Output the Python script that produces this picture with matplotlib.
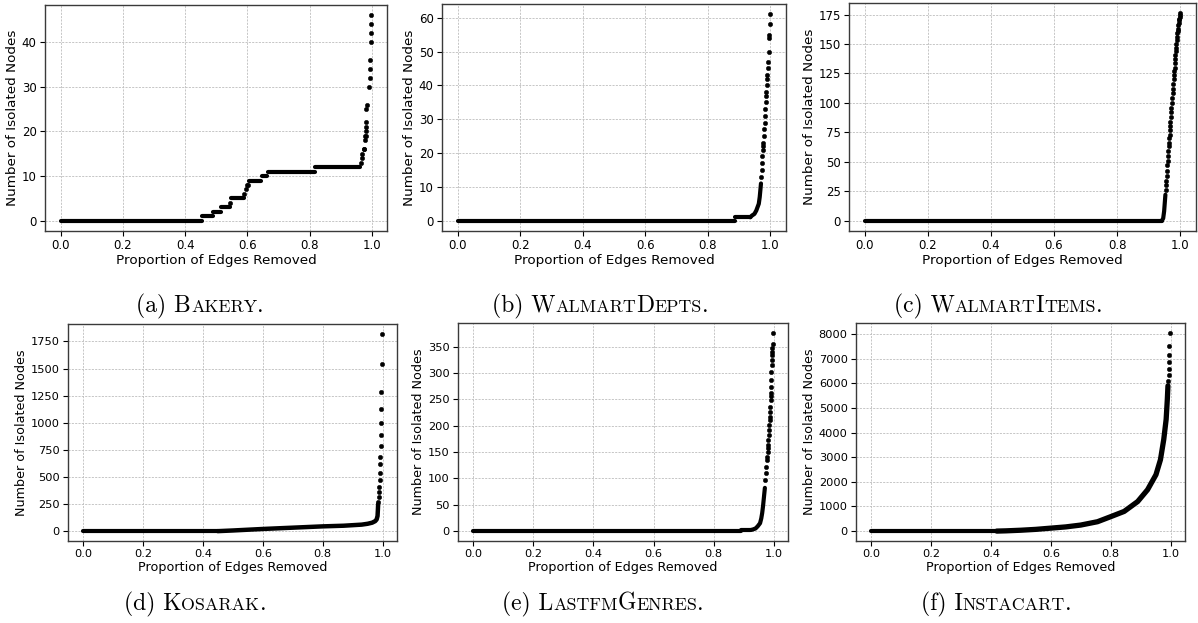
import numpy as np
import matplotlib
matplotlib.use("Agg")
import matplotlib.pyplot as plt

W, H = 1198, 623

# ---------------- data ----------------
# (a) Bakery
bak_run_x0 = [0.0, 0.455, 0.490, 0.515, 0.546, 0.604, 0.646, 0.665, 0.818]
bak_run_x1 = [0.455, 0.490, 0.515, 0.543, 0.589, 0.644, 0.662, 0.818, 0.962]
bak_run_y = [0, 1, 2, 3, 5, 9, 10, 11, 12]
bak_cx = []
bak_cy = []
bak_dx = [0.544, 0.589, 0.594, 0.598, 0.601, 0.965, 0.968, 0.969, 0.973, 0.974, 0.976,
          0.977, 0.979, 0.979, 0.980, 0.981, 0.982, 0.983, 0.991, 0.992, 0.993, 0.994,
          0.995, 0.996, 0.997, 0.998]
bak_dy = [4, 6, 7, 8, 8, 13, 14, 15, 16, 16, 18, 19, 19, 20, 21, 22, 25, 26, 30, 32, 34, 36,
          40, 42, 44, 46]

# (b) WalmartDepts
wd_run_x0 = [0.0, 0.888]
wd_run_x1 = [0.888, 0.936]
wd_run_y = [0, 1]
wd_cx = [0.936, 0.941, 0.949, 0.955, 0.959, 0.963, 0.966, 0.968, 0.970]
wd_cy = [1, 1.5, 2, 3, 4, 5, 7, 9, 11]
wd_dx = [0.971, 0.972, 0.973, 0.974, 0.975, 0.976, 0.978, 0.979, 0.980, 0.982, 0.983, 0.984,
         0.985, 0.986, 0.987, 0.988, 0.989, 0.990, 0.991, 0.993, 0.995, 0.996, 0.997, 0.998, 1.0]
wd_dy = [13, 15, 17, 19, 21, 22, 23, 25, 27, 29, 31, 33, 35, 37, 38, 40, 42, 43, 45, 47, 50,
         54, 55, 58, 61]

# (c) WalmartItems
wi_run_x0 = [0.0]
wi_run_x1 = [0.942]
wi_run_y = [0]
wi_cx = [0.942, 0.946, 0.949, 0.951, 0.953]
wi_cy = [0, 2, 8, 15, 22]
wi_dx = [0.954, 0.955, 0.956, 0.957, 0.958, 0.959, 0.960, 0.961, 0.962, 0.963, 0.964, 0.965,
         0.966, 0.967, 0.968, 0.969, 0.970, 0.971, 0.972, 0.973, 0.975, 0.976, 0.977, 0.978,
         0.979, 0.980, 0.981, 0.982, 0.983, 0.984, 0.985, 0.986, 0.987, 0.988, 0.989, 0.990,
         0.991, 0.992, 0.993, 0.994, 0.995, 0.996, 0.997, 0.998, 0.999, 1.0]
wi_dy = [26, 30, 34, 38, 42, 47, 51, 55, 59, 63, 66, 70, 73, 77, 80, 84, 88, 92, 96, 100,
         104, 108, 112, 116, 120, 124, 127, 130, 134, 137, 141, 144, 147, 150, 153, 156,
         159, 161, 163, 166, 168, 170, 171, 173, 175, 176]

# (d) Kosarak
ko_run_x0 = [0.0]
ko_run_x1 = [0.45]
ko_run_y = [0]
ko_cx = [0.45, 0.5, 0.55, 0.6, 0.65, 0.7, 0.75, 0.8, 0.87, 0.9, 0.93, 0.95, 0.965, 0.975,
         0.98, 0.983, 0.984, 0.985]
ko_cy = [0, 6, 13, 20, 26, 32, 38, 44, 50, 55, 60, 68, 78, 92, 108, 140, 190, 250]
ko_dx = [0.986, 0.987, 0.988, 0.989, 0.990, 0.991, 0.992, 0.992, 0.993, 0.994, 0.994, 0.995,
         0.996, 0.997, 0.998]
ko_dy = [270, 317, 363, 409, 471, 532, 618, 686, 785, 883, 1000, 1127, 1280, 1540, 1820]

# (e) LastfmGenres
lf_run_x0 = [0.0, 0.889]
lf_run_x1 = [0.889, 0.922]
lf_run_y = [0, 2]
lf_cx = [0.922, 0.930, 0.939, 0.946, 0.954, 0.958, 0.961, 0.964, 0.967, 0.970]
lf_cy = [2, 3, 5, 9, 15, 24, 34, 48, 65, 82]
lf_dx = [0.972, 0.973, 0.975, 0.976, 0.978, 0.979, 0.980, 0.981, 0.982, 0.983, 0.984, 0.985,
         0.986, 0.987, 0.988, 0.988, 0.989, 0.990, 0.990, 0.991, 0.992, 0.992, 0.993, 0.994,
         0.994, 0.995, 0.995, 0.996, 0.997]
lf_dy = [97, 110, 122, 135, 141, 150, 157, 163, 172, 182, 192, 202, 211, 217, 226, 236, 249,
         257, 262, 274, 287, 302, 315, 325, 334, 340, 348, 355, 376]

# (f) Instacart
ic_run_x0 = [0.0]
ic_run_x1 = [0.42]
ic_run_y = [0]
ic_cx = [0.42, 0.45, 0.5, 0.55, 0.6, 0.65, 0.7, 0.756, 0.8, 0.845, 0.89, 0.923, 0.951, 0.966,
         0.977, 0.985, 0.989, 0.991]
ic_cy = [0, 10, 35, 70, 120, 170, 245, 381, 586, 800, 1200, 1680, 2290, 2900, 3720, 4540,
         5370, 5900]
ic_dx = [0.992, 0.993, 0.994, 0.994, 0.995, 0.996, 0.998]
ic_dy = [6110, 6340, 6580, 6850, 7170, 7530, 8050]

# captions: (text, small-caps flag)
cap_a = [("(a) B", False), ("AKERY", True), (".", False)]
cap_b = [("(b) W", False), ("ALMART", True), ("D", False), ("EPTS", True), (".", False)]
cap_c = [("(c) W", False), ("ALMART", True), ("I", False), ("TEMS", True), (".", False)]
cap_d = [("(d) K", False), ("OSARAK", True), (".", False)]
cap_e = [("(e) L", False), ("ASTFM", True), ("G", False), ("ENRES", True), (".", False)]
cap_f = [("(f) I", False), ("NSTACART", True), (".", False)]

xlabel = "Proportion of Edges Removed"
ylabel = "Number of Isolated Nodes"

panels = [
    dict(runs=(bak_run_x0, bak_run_x1, bak_run_y), curve=(bak_cx, bak_cy), dots=(bak_dx, bak_dy),
         box=(45, 5, 387, 231), yticks=[0, 10, 20, 30, 40], cap=cap_a, capx=200, capy=312, row=0, lw=3.0),
    dict(runs=(wd_run_x0, wd_run_x1, wd_run_y), curve=(wd_cx, wd_cy), dots=(wd_dx, wd_dy),
         box=(442, 4, 786, 231), yticks=[0, 10, 20, 30, 40, 50, 60], cap=cap_b, capx=600, capy=312, row=0, lw=3.0),
    dict(runs=(wi_run_x0, wi_run_x1, wi_run_y), curve=(wi_cx, wi_cy), dots=(wi_dx, wi_dy),
         box=(849, 3, 1196, 231), yticks=[0, 25, 50, 75, 100, 125, 150, 175], cap=cap_c, capx=998, capy=312, row=0, lw=3.0),
    dict(runs=(ko_run_x0, ko_run_x1, ko_run_y), curve=(ko_cx, ko_cy), dots=(ko_dx, ko_dy),
         box=(68, 324, 397, 541), yticks=[0, 250, 500, 750, 1000, 1250, 1500, 1750], cap=cap_d, capx=195, capy=610, row=1, lw=3.2),
    dict(runs=(lf_run_x0, lf_run_x1, lf_run_y), curve=(lf_cx, lf_cy), dots=(lf_dx, lf_dy),
         box=(458, 323, 788, 541), yticks=[0, 50, 100, 150, 200, 250, 300, 350], cap=cap_e, capx=603, capy=610, row=1, lw=3.0),
    dict(runs=(ic_run_x0, ic_run_x1, ic_run_y), curve=(ic_cx, ic_cy), dots=(ic_dx, ic_dy),
         box=(856, 323, 1185, 541), yticks=[0, 1000, 2000, 3000, 4000, 5000, 6000, 7000, 8000], cap=cap_f, capx=996, capy=610, row=1, lw=3.8),
]

fig = plt.figure(figsize=(W / 100, H / 100), dpi=100)

MS = 3.2
for p in panels:
    l, t, r, b = p["box"]
    ax = fig.add_axes([l / W, 1 - b / H, (r - l) / W, (b - t) / H])
    x0s, x1s, ys = p["runs"]
    for a0, a1, yy in zip(x0s, x1s, ys):
        ax.plot([a0, a1], [yy, yy], color="black", lw=3.0, solid_capstyle="round")
    cx, cy = p["curve"]
    if len(cx):
        ax.plot(cx, cy, color="black", lw=p["lw"], solid_capstyle="round", solid_joinstyle="round")
    dx, dy = p["dots"]
    ax.plot(dx, dy, "o", color="black", ms=MS, mec="black", mew=0.3)
    ax.set_xticks([0.0, 0.2, 0.4, 0.6, 0.8, 1.0])
    ax.set_yticks(p["yticks"])
    ax.margins(0.05)
    ax.grid(True, ls=(0, (2.5, 1.5)), lw=0.6, color="#bdbdbd")
    ax.set_axisbelow(True)
    for s in ax.spines.values():
        s.set_color("#3a3a3a")
        s.set_linewidth(1.0)
    tfs = 8.5 if p["row"] == 0 else 8.2
    lfs = 9.7 if p["row"] == 0 else 9.2
    ax.tick_params(labelsize=tfs, length=3.5, width=0.8, pad=2.5)
    ax.set_xlabel(xlabel, fontsize=lfs, labelpad=1)
    ax.set_ylabel(ylabel, fontsize=lfs, labelpad=2)

# captions with emulated small caps in Computer Modern
BIG = 17.0
SMALL = BIG * 0.76
fig.canvas.draw()
renderer = fig.canvas.get_renderer()
for p in panels:
    texts = []
    widths = []
    for s, sc in p["cap"]:
        t = fig.text(0, 0, s, fontsize=SMALL if sc else BIG, family="cmr10",
                     ha="left", va="baseline")
        bb = t.get_window_extent(renderer)
        texts.append(t)
        widths.append(bb.width)
    total = sum(widths)
    x = p["capx"] - total / 2
    for t, w in zip(texts, widths):
        t.set_position((x / W, 1 - p["capy"] / H))
        x += w

fig.savefig("out.png", dpi=100)
